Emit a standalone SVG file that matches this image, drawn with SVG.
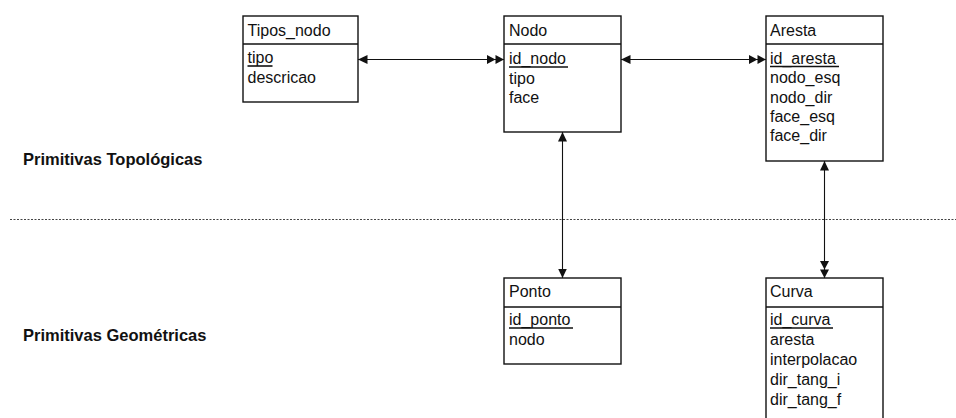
<svg xmlns="http://www.w3.org/2000/svg" width="956" height="418" viewBox="0 0 956 418">
  <style>
    .box { fill: #ffffff; stroke: #111111; stroke-width: 1.4; }
    .sep { stroke: #111111; stroke-width: 1.4; }
    .t { font-family: "Liberation Sans", Arial, sans-serif; font-size: 16px; fill: #111111; }
    .lbl { font-family: "Liberation Sans", Arial, sans-serif; font-size: 16.5px; font-weight: bold; fill: #111111; }
    .key { stroke: #111111; stroke-width: 1.6; }
    .link { fill: none; stroke: #111111; stroke-width: 1.1; }
    .divider { fill: none; stroke: #444444; stroke-width: 1; stroke-dasharray: 2 1.5; }
  </style>
  <defs>
    <marker id="one" markerUnits="userSpaceOnUse" markerWidth="11" markerHeight="11" refX="9.5" refY="5" orient="auto-start-reverse">
      <path d="M0,0.5 L9.5,5 L0,9.5 z" fill="#111111"/>
    </marker>
    <marker id="many" markerUnits="userSpaceOnUse" markerWidth="18" markerHeight="11" refX="17" refY="5" orient="auto-start-reverse">
      <path d="M0,0.5 L8.5,5 L0,9.5 z M8.5,0.5 L17,5 L8.5,9.5 z" fill="#111111"/>
    </marker>
  </defs>

  <rect width="956" height="418" fill="#ffffff"/>

  <!-- layer separator and layer labels -->
  <line class="divider" x1="10" y1="219.5" x2="956" y2="219.5"/>
  <text class="lbl" x="23" y="165">Primitivas Topológicas</text>
  <text class="lbl" x="23" y="341">Primitivas Geométricas</text>

  <!-- relationships -->
  <g id="connectors">
    <line class="link" x1="358" y1="59.5" x2="504" y2="59.5" marker-start="url(#one)" marker-end="url(#many)"/>
    <line class="link" x1="621" y1="59.5" x2="766" y2="59.5" marker-start="url(#one)" marker-end="url(#many)"/>
    <line class="link" x1="562.5" y1="132" x2="562.5" y2="278" marker-start="url(#one)" marker-end="url(#one)"/>
    <line class="link" x1="824.5" y1="161" x2="824.5" y2="278" marker-start="url(#one)" marker-end="url(#many)"/>
  </g>

  <g id="tipos_nodo">
    <rect class="box" x="243" y="16" width="115" height="86"/>
    <line class="sep" x1="243" y1="44" x2="358" y2="44"/>
    <text class="t" x="247.5" y="35.5">Tipos_nodo</text>
    <text class="t" x="247.5" y="63">tipo</text>
    <line class="key" x1="247.5" y1="66" x2="272.5" y2="66"/>
    <text class="t" x="247.5" y="83">descricao</text>
  </g>

  <g id="nodo">
    <rect class="box" x="504" y="16" width="117" height="116"/>
    <line class="sep" x1="504" y1="44" x2="621" y2="44"/>
    <text class="t" x="509" y="35.5">Nodo</text>
    <text class="t" x="509" y="64">id_nodo</text>
    <line class="key" x1="509" y1="67" x2="568" y2="67"/>
    <text class="t" x="509" y="84">tipo</text>
    <text class="t" x="509" y="103">face</text>
  </g>

  <g id="aresta">
    <rect class="box" x="766" y="16" width="117" height="145"/>
    <line class="sep" x1="766" y1="44" x2="883" y2="44"/>
    <text class="t" x="770" y="35.5">Aresta</text>
    <text class="t" x="770" y="63.5">id_aresta</text>
    <line class="key" x1="770" y1="66.5" x2="839" y2="66.5"/>
    <text class="t" x="770" y="83">nodo_esq</text>
    <text class="t" x="770" y="102.5">nodo_dir</text>
    <text class="t" x="770" y="122">face_esq</text>
    <text class="t" x="770" y="141">face_dir</text>
  </g>

  <g id="ponto">
    <rect class="box" x="504" y="278" width="117" height="86"/>
    <line class="sep" x1="504" y1="307" x2="621" y2="307"/>
    <text class="t" x="509" y="297">Ponto</text>
    <text class="t" x="509" y="325">id_ponto</text>
    <line class="key" x1="509" y1="328" x2="573" y2="328"/>
    <text class="t" x="509" y="345">nodo</text>
  </g>

  <g id="curva">
    <rect class="box" x="766" y="278" width="117" height="150"/>
    <line class="sep" x1="766" y1="307" x2="883" y2="307"/>
    <text class="t" x="770" y="297">Curva</text>
    <text class="t" x="770" y="325">id_curva</text>
    <line class="key" x1="770" y1="328" x2="833" y2="328"/>
    <text class="t" x="770" y="345">aresta</text>
    <text class="t" x="770" y="365">interpolacao</text>
    <text class="t" x="770" y="385">dir_tang_i</text>
    <text class="t" x="770" y="404.5">dir_tang_f</text>
  </g>
</svg>
